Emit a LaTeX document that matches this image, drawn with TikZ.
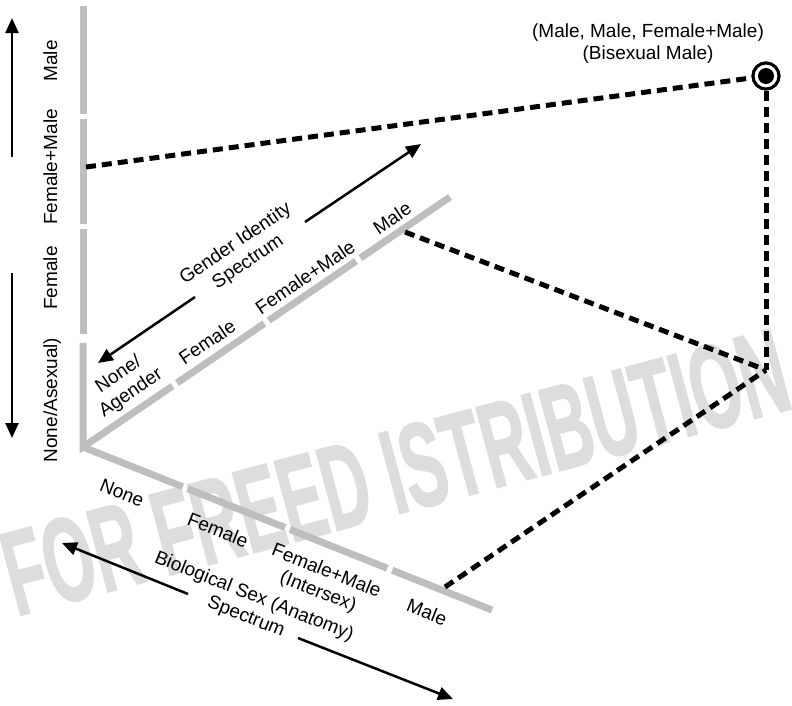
\documentclass[tikz,border=0pt]{standalone}
\usepackage{fontspec}
\setmainfont{Liberation Sans}
\newfontfamily\stampfont[FakeBold=1.5]{Liberation Sans Bold}
\usetikzlibrary{arrows.meta,calc}
\definecolor{axisgray}{HTML}{BCBEC0}
\definecolor{markgray}{HTML}{DCDDDE}

\begin{document}
\begin{tikzpicture}[x=1pt,y=-1pt,
  axis/.style={line width=7pt, axisgray},
  link/.style={line width=5pt, dash pattern=on 10pt off 6pt, black},
  dirarrow/.style={line width=2.5pt, -{Triangle[length=15pt,width=13pt]}},
  lbl/.style={font=\fontsize{19}{22}\selectfont, align=center, inner sep=0pt},
  vlbl/.style={lbl, rotate=90, anchor=base},
  glbl/.style={lbl, rotate=34.2},
  blbl/.style={lbl, rotate=-21.7},
]
\useasboundingbox (0,0) rectangle (792,705);

% background stamp
\begin{scope}[shift={(406,512)}]
  \node[font=\fontsize{120}{120}\stampfont, text=markgray,
        rotate=15, xscale=0.54, anchor=base, inner sep=0pt] (stamp) at (0,0)
        {FOR FREED ISTRIBUTION};
\end{scope}

% the three axes meeting at the origin
\coordinate (O) at (83,447);
\coordinate (Vtop) at (83,6);
\coordinate (Gtop) at (450,197);
\coordinate (Btop) at (492,610);

\draw[axis] ($(O)!0.244!(Gtop)$) -- (O) -- ($(O)!0.236!(Vtop)$);
\draw[axis] (O) -- ($(O)!0.244!(Btop)$);
\foreach \a/\b in {0.256/0.494, 0.506/0.744, 0.756/1} {
  \draw[axis] ($(O)!\a!(Vtop)$) -- ($(O)!\b!(Vtop)$);
  \draw[axis] ($(O)!\a!(Gtop)$) -- ($(O)!\b!(Gtop)$);
  \draw[axis] ($(O)!\a!(Btop)$) -- ($(O)!\b!(Btop)$);
}

% point in the space and its projections
\node[circle, draw=black, line width=3pt, fill=white, minimum size=26pt,
      inner sep=0pt] (pt) at (766,76) {};
\coordinate (corner) at (766,370);
\coordinate (vpt) at (86,167);
\coordinate (gpt) at (405,232);
\coordinate (bpt) at (445,587);

\draw[link] (vpt) -- (pt);
\draw[link] (pt) -- (corner);
\draw[link] (gpt) -- (corner);
\draw[link] (bpt) -- (corner);

\node[circle, draw=black, line width=3pt, fill=white, minimum size=26pt,
      inner sep=0pt] (ptring) at (pt) {};
\node[circle, fill=black, minimum size=16pt, inner sep=0pt] (ptdot) at (pt) {};

\node[lbl] (ptlabel) at (648,44) {(Male, Male, Female+Male)\\(Bisexual Male)};

% direction arrows
\coordinate (vu1) at (12,157); \coordinate (vu2) at (12,18);
\coordinate (vd1) at (12,273); \coordinate (vd2) at (12,438);
\coordinate (gd1) at (195,297); \coordinate (gd2) at (98,363);
\coordinate (gu1) at (305,222); \coordinate (gu2) at (421,144);
\coordinate (bl1) at (188,594); \coordinate (bl2) at (62,543);
\coordinate (br1) at (298,638); \coordinate (br2) at (453,699);
\draw[dirarrow] (vu1) -- (vu2);
\draw[dirarrow] (vd1) -- (vd2);
\draw[dirarrow] (gd1) -- (gd2);
\draw[dirarrow] (gu1) -- (gu2);
\draw[dirarrow] (bl1) -- (bl2);
\draw[dirarrow] (br1) -- (br2);

% sexual orientation axis labels
\node[vlbl] (vMale) at (57,61) {Male};
\node[vlbl] (vFM) at (57,167) {Female+Male};
\node[vlbl] (vF) at (57,278) {Female};
\node[vlbl] (vNone) at (57,400) {None/Asexual)};

% gender identity axis labels
\node[glbl] (gNone) at (125,384) {None/\\Agender};
\node[glbl] (gF) at (207,342) {Female};
\node[glbl] (gFM) at (305,277) {Female+Male};
\node[glbl] (gMale) at (392,218) {Male};
\node[glbl] (gTitle) at (242,253) {Gender Identity\\Spectrum};

% biological sex axis labels
\node[blbl] (bNone) at (122,493) {None};
\node[blbl] (bF) at (218,530) {Female};
\node[blbl] (bFM) at (322,582) {Female+Male\\(Intersex)};
\node[blbl] (bMale) at (427,612) {Male};
\node[blbl] (bTitle) at (250,607) {Biological Sex (Anatomy)\\Spectrum};
\end{tikzpicture}
\end{document}
